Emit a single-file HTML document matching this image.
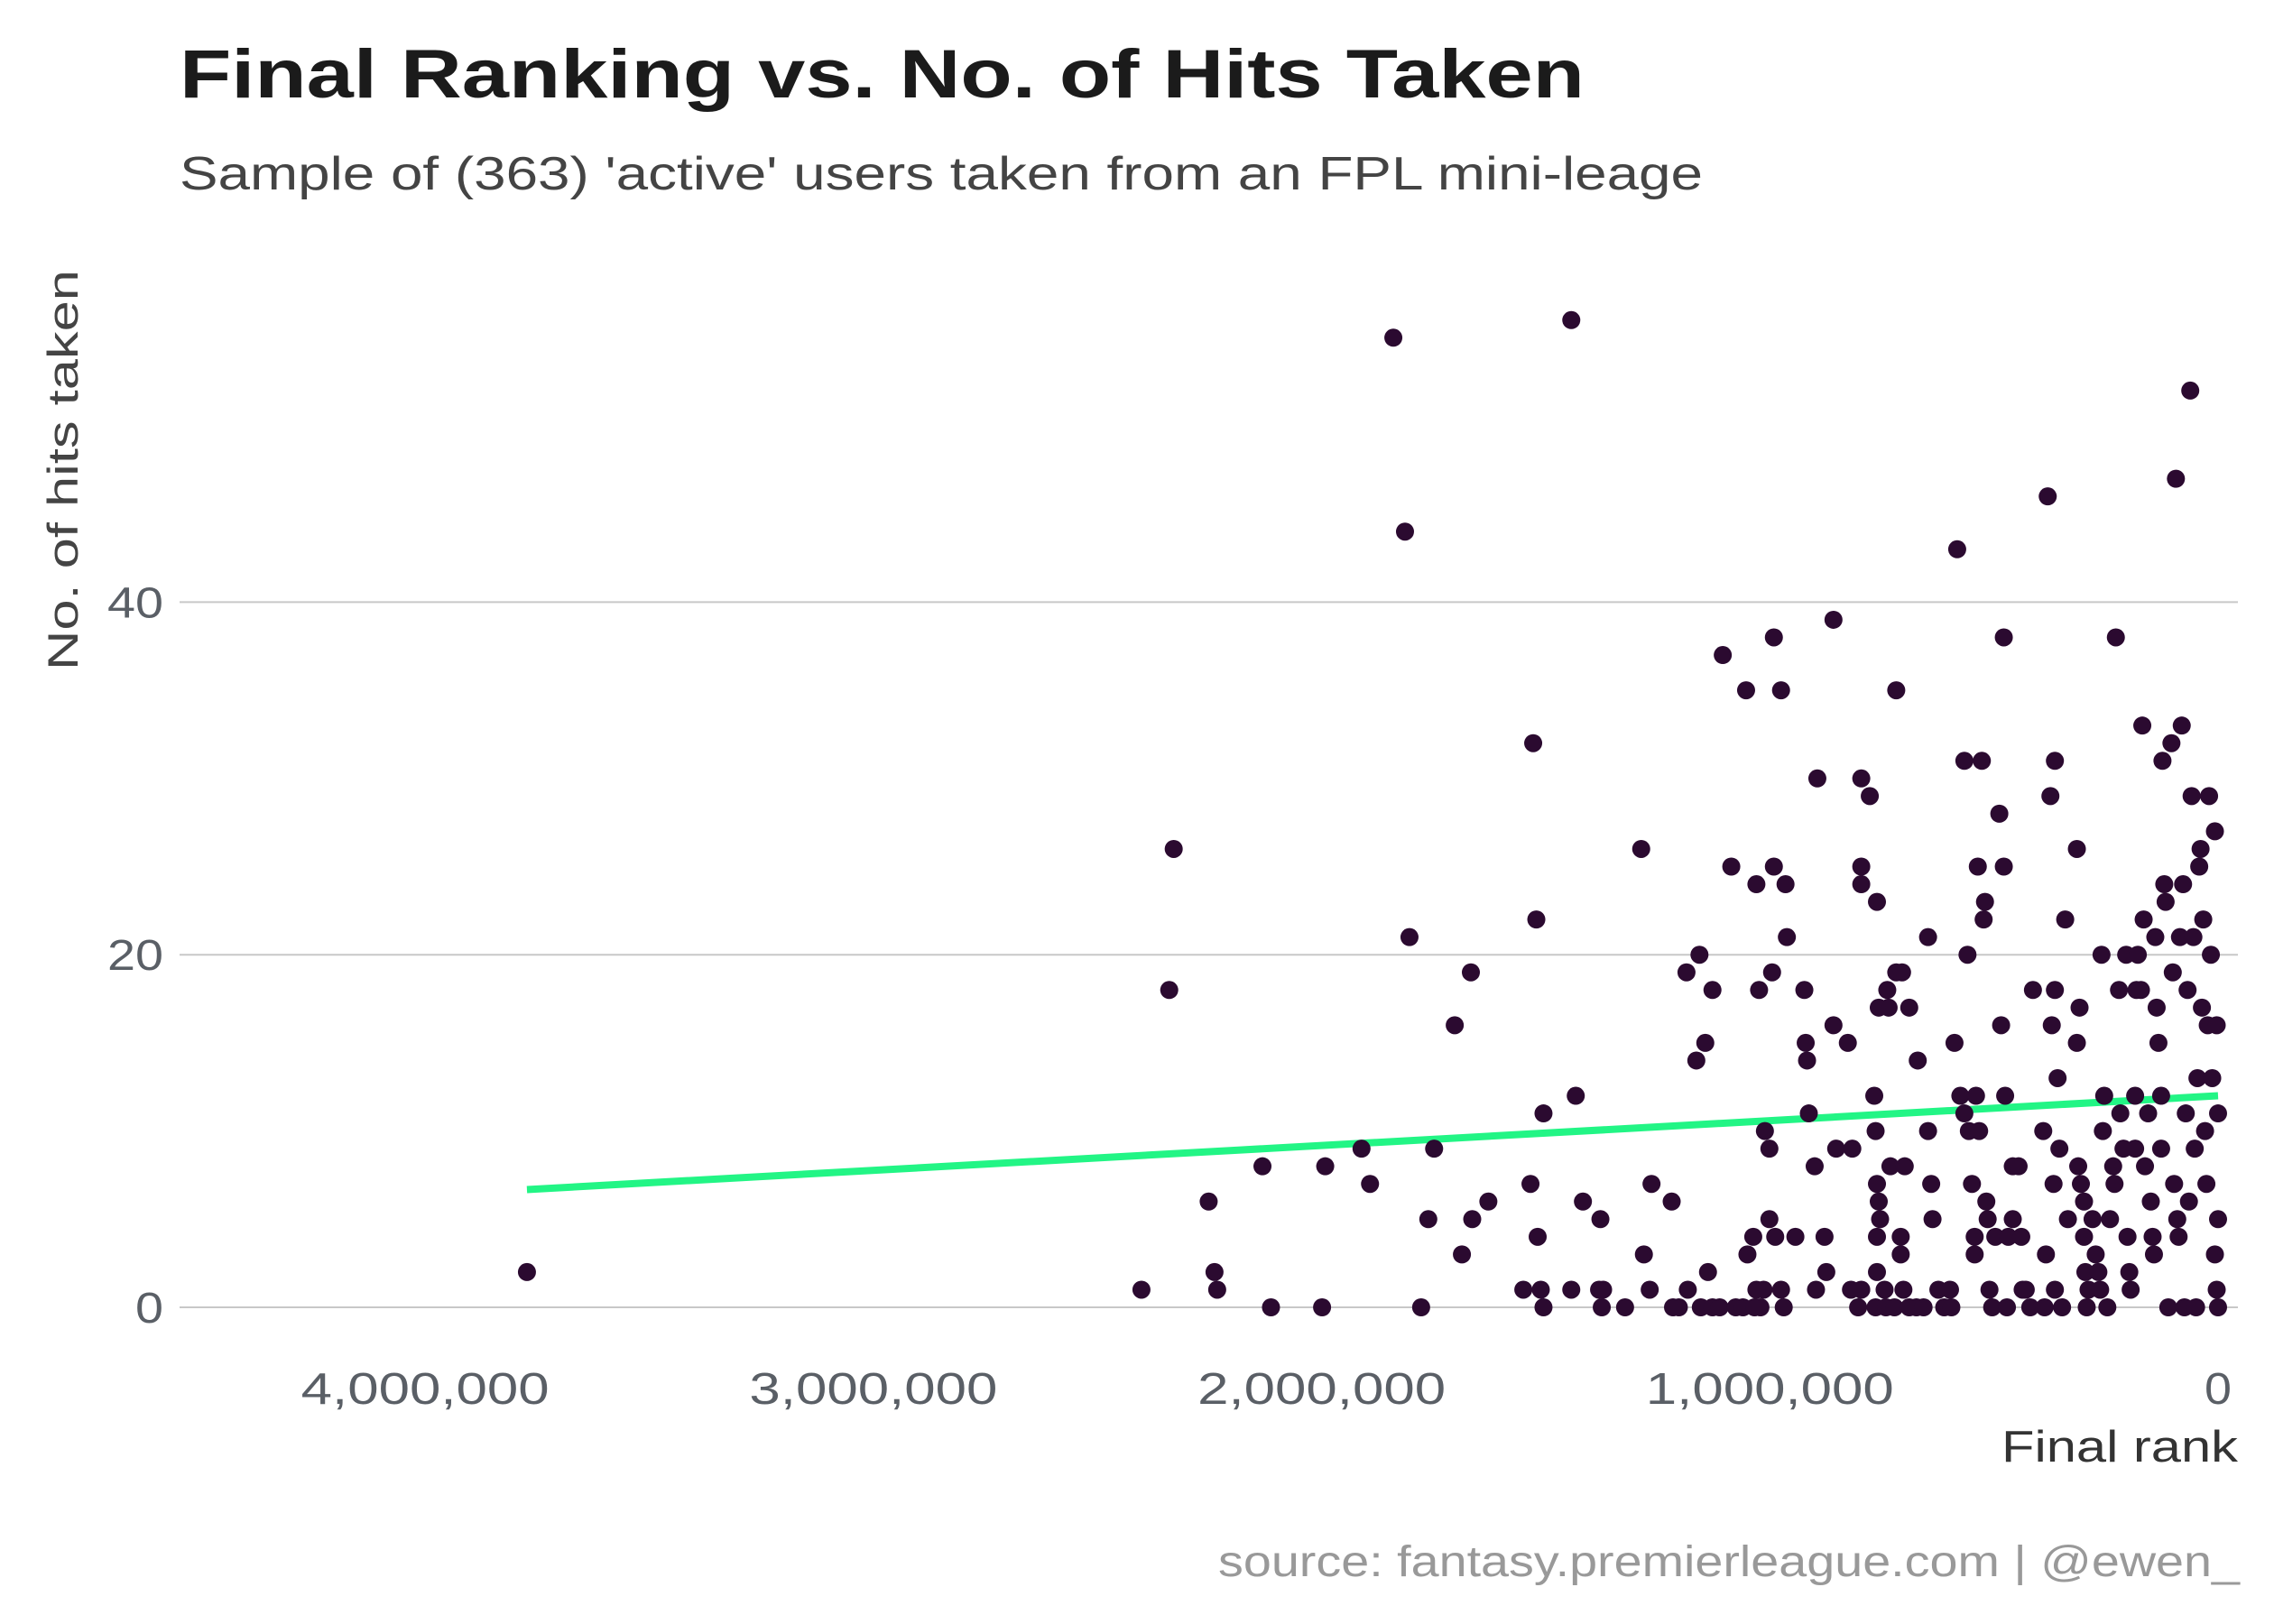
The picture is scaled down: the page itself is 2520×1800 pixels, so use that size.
<!DOCTYPE html>
<html><head><meta charset="utf-8">
<style>
html,body{margin:0;padding:0;background:#fff;}
svg{display:block;}
text{font-family:"Liberation Sans",sans-serif;}
</style></head>
<body>
<svg id="chart" width="2520" height="1800" viewBox="0 0 2520 1800">
<rect width="2520" height="1800" fill="#fff"/>
<text x="199" y="108" font-size="76" font-weight="bold" fill="#1b1b1b" textLength="1557" lengthAdjust="spacingAndGlyphs">Final Ranking vs. No. of Hits Taken</text>
<text x="199" y="210" font-size="52" fill="#444" textLength="1688" lengthAdjust="spacingAndGlyphs">Sample of (363) 'active' users taken from an FPL mini-leage</text>
<text transform="translate(86,521) rotate(-90)" text-anchor="middle" font-size="47" fill="#444" textLength="444" lengthAdjust="spacingAndGlyphs">No. of hits taken</text>
<text x="2480" y="1620" text-anchor="end" font-size="49" fill="#333" textLength="262" lengthAdjust="spacingAndGlyphs">Final rank</text>
<text x="2482" y="1747" text-anchor="end" font-size="48" fill="#999" textLength="1132" lengthAdjust="spacingAndGlyphs">source: fantasy.premierleague.com | @ewen_</text>
<g id="grid"></g><g id="trend"></g><g id="pts"></g><g id="axes"></g>
</svg>
<script>
// data: final rank (thousands) and hits taken
const rankK = [3773,2402,2330,2340,2252,2239,2233,2132,2113,1999,1992,1911,1892,1840,1814,1804,1778,1762,1749,1703,1687,1667,1664,1628,1550,1534,1528,1521,1518,1511,1505,1505,1443,1443,1433,1417,1381,1375,1372,1378,1323,1287,1281,1264,1268,1219,1216,1203,1183,1186,1157,1164,1144,1128,1138,1154,1128,1112,1105,1086,1076,1060,1053,1050,1037,1030,1024,1011,1001,1001,1014,1030,1034,1021,991,991,995,988,975,965,962,975,969,943,923,920,917,913,894,900,897,878,874,858,858,852,826,816,819,803,796,796,796,796,777,761,757,767,764,761,757,754,761,761,764,738,735,731,744,741,722,718,718,705,708,708,699,702,689,673,657,689,670,647,647,640,637,624,611,598,595,588,582,575,566,559,566,556,549,543,543,540,536,533,527,523,520,517,514,510,504,497,488,484,478,478,475,471,468,458,458,445,439,436,429,419,413,390,387,384,380,374,371,367,364,364,364,358,354,348,341,335,315,309,315,312,306,299,299,296,289,293,280,273,267,263,260,254,257,247,241,234,231,228,221,218,211,205,202,198,195,185,185,182,179,172,169,166,163,156,150,146,143,140,137,133,127,127,124,120,117,111,104,101,98,94,62,91,88,85,81,78,75,72,68,65,59,55,52,49,46,42,39,36,33,29,26,23,20,16,13,7,7,3,0,3,0,0];
const hits = [2,1,26,18,6,2,1,8,0,0,8,9,7,55,44,21,0,5,9,16,3,19,5,6,1,7,32,22,4,1,0,11,56,1,12,6,1,0,1,5,0,26,3,7,1,6,0,0,1,19,20,14,15,18,2,0,0,0,37,25,0,0,35,3,4,24,18,10,9,5,1,1,0,0,38,25,19,4,35,24,21,1,0,4,18,15,14,11,30,8,1,4,2,39,16,9,15,9,1,0,1,30,25,24,29,23,17,12,10,7,6,5,4,2,0,18,17,8,1,0,0,35,19,19,4,3,8,1,0,0,0,17,14,21,10,7,5,1,0,1,0,15,43,12,11,20,31,10,7,4,3,12,25,10,31,22,23,6,5,1,0,4,28,16,25,38,12,0,4,8,5,8,4,1,1,0,18,10,0,3,46,29,16,7,31,18,1,13,9,0,22,5,26,17,15,8,7,6,4,2,1,0,5,3,2,1,20,12,10,0,5,8,7,38,18,11,9,20,4,2,1,12,9,18,20,18,33,22,8,11,6,4,3,21,17,15,12,9,31,24,23,0,32,19,7,47,52,5,4,21,33,24,0,11,18,6,29,21,9,0,13,25,26,17,22,10,7,16,29,20,13,27,3,1,0,16,5,11];
const yTicks = [0,20,40];
const xTicks = [4000,3000,2000,1000,0];
const xTickLabels = ["4,000,000","3,000,000","2,000,000","1,000,000","0"];
const trendIntercept = [12.0];
const trendSlopePerMillion = [-1.41];

const NS="http://www.w3.org/2000/svg";
const X = r => 2458 - r*0.4967;
const Y = h => 1449 - h*19.54;
function mk(tag, attrs, parent){const e=document.createElementNS(NS,tag);for(const k in attrs)e.setAttribute(k,attrs[k]);parent.appendChild(e);return e;}
const grid=document.getElementById('grid'), axes=document.getElementById('axes');
yTicks.forEach(t=>{
  const l=mk('line',{x1:199,x2:2480,y1:Y(t),y2:Y(t),stroke:'#c8c8c8','stroke-width':2},grid);
  
  
  const s=String(t);
  const tx=mk('text',{x:181,y:Y(t)+17,'text-anchor':'end','font-size':48,fill:'#5a5f66',textLength:31*s.length,lengthAdjust:'spacingAndGlyphs'},axes);
  tx.textContent=s;
  
  
});
xTicks.forEach((t,i)=>{
  const s=xTickLabels[i];
  const tx=mk('text',{x:X(t),y:1556,'text-anchor':'middle','font-size':49,fill:'#5a5f66',textLength:s.length>1?275:30,lengthAdjust:'spacingAndGlyphs'},axes);
  tx.textContent=s;
  
  
});
const pts=document.getElementById('pts');
rankK.forEach((r,i)=>{
  const c=mk('circle',{cx:X(r),cy:Y(hits[i]),r:10,fill:'#2b0a30'},pts);
  
  
});
const rMax=Math.max(...rankK), rMin=Math.min(...rankK);
const f=r=>trendIntercept[0]+trendSlopePerMillion[0]*r/1000;
const tl=mk('line',{x1:X(rMax),y1:Y(f(rMax)),x2:X(rMin),y2:Y(f(rMin)),stroke:'#22f585','stroke-width':8},document.getElementById('trend'));


</script>
</body></html>
